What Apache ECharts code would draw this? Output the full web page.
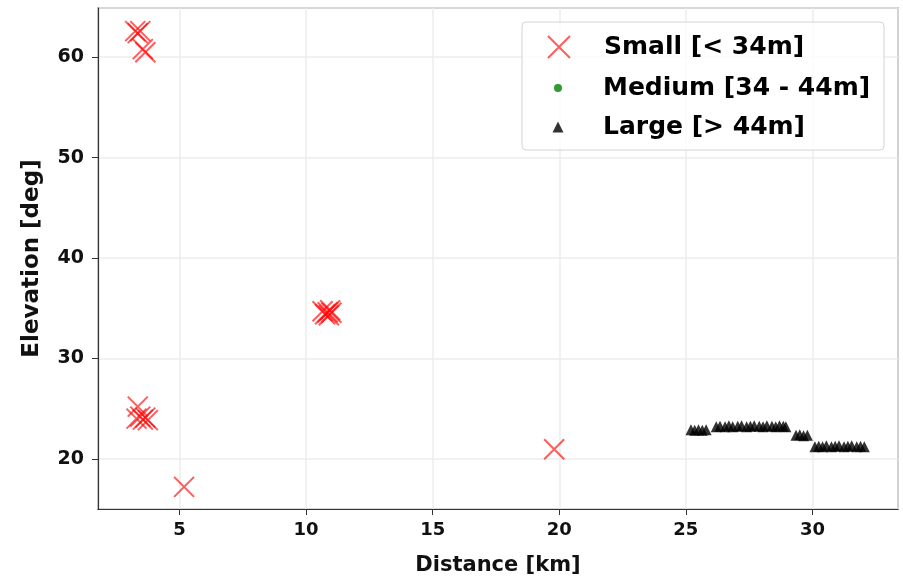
<!DOCTYPE html>
<html>
<head>
<meta charset="utf-8">
<script src="https://cdn.jsdelivr.net/npm/echarts@6/dist/echarts.min.js"></script>
<style>
  html, body { margin: 0; padding: 0; background: #fff; }
  #main { width: 903px; height: 579px; }
</style>
</head>
<body>
<div id="main"></div>
<script>
// Small [< 34m] : [distance km, elevation deg]
const smallPts = [
  [3.25, 62.6], [3.35, 62.4], [3.45, 62.6],
  [3.55, 60.8], [3.65, 60.5],
  [3.35, 25.2], [3.3, 24.0], [3.45, 24.2], [3.55, 23.9], [3.65, 24.1], [3.75, 23.85],
  [5.18, 17.2],
  [10.65, 34.7], [10.75, 34.4], [10.85, 34.6], [10.95, 34.8], [10.9, 34.3], [11.0, 34.55],
  [19.8, 20.95]
];
// Medium [34 - 44m] : none in this plot
const mediumPts = [];
// Large [> 44m]
const largePts = [
  [25.2, 22.9], [25.35, 22.85], [25.5, 22.9], [25.65, 22.85], [25.8, 22.9],
  [26.2, 23.2], [26.35, 23.25], [26.55, 23.2], [26.7, 23.3], [26.85, 23.2],
  [27.05, 23.25], [27.2, 23.3], [27.4, 23.2], [27.55, 23.25], [27.7, 23.3],
  [27.9, 23.25], [28.05, 23.2], [28.2, 23.3], [28.4, 23.25], [28.55, 23.2],
  [28.7, 23.3], [28.85, 23.25], [28.95, 23.2],
  [29.35, 22.35], [29.5, 22.4], [29.65, 22.3], [29.8, 22.35],
  [30.1, 21.2], [30.25, 21.25], [30.4, 21.2], [30.55, 21.3], [30.75, 21.2],
  [30.9, 21.25], [31.05, 21.3], [31.25, 21.2], [31.4, 21.25], [31.55, 21.3],
  [31.75, 21.2], [31.9, 21.25], [32.05, 21.2]
];
const names = ['Small [< 34m]', 'Medium [34 - 44m]', 'Large [> 44m]'];
const xRange = [1.78, 33.38];
const yRange = [15.0, 64.9];

const FONT = 'DejaVu Sans';
const X_ICON = 'path://M0,0 L10,10 M10,0 L0,10';

const chart = echarts.init(document.getElementById('main'));

function legendItem(name, cy, size) {
  // one legend per entry so each icon keeps its own size
  return {
    data: [name],
    left: 558 - size / 2,
    top: cy - 15,
    itemWidth: size,
    itemHeight: size,
    padding: 0,
    selectedMode: false,
    textStyle: {
      fontFamily: FONT, fontWeight: 'bold', fontSize: 25, lineHeight: 30, color: '#000',
      padding: [0, 0, 0, 603 - (558 + size / 2) - 5]
    }
  };
}

chart.setOption({
  animation: false,
  textStyle: { fontFamily: FONT },
  grid: {
    left: 98, right: 5, top: 8, bottom: 70,
    outerBoundsMode: 'none',
    show: true, borderColor: '#333', borderWidth: 1.2
  },
  graphic: [{
    type: 'rect', z: 3,
    shape: { x: 522, y: 22, width: 362, height: 128, r: 4 },
    style: { fill: 'rgba(255,255,255,0.85)', stroke: '#d4d4d4', lineWidth: 1 }
  }],
  legend: [
    legendItem(names[0], 47, 22),
    legendItem(names[1], 88, 8),
    legendItem(names[2], 127, 11)
  ],
  xAxis: {
    type: 'value',
    min: xRange[0], max: xRange[1],
    splitNumber: 6,
    name: 'Distance [km]',
    nameLocation: 'middle',
    nameGap: 46,
    nameTextStyle: { fontFamily: FONT, fontWeight: 'bold', fontSize: 21, color: '#111' },
    axisLine: { lineStyle: { color: '#333', width: 1.2 } },
    axisTick: { length: 6, lineStyle: { color: '#333' } },
    axisLabel: {
      showMinLabel: false, showMaxLabel: false,
      fontFamily: FONT, fontWeight: 'bold', fontSize: 18, color: '#111', margin: 12
    },
    splitLine: { show: true, lineStyle: { color: '#ececec', width: 1.5 } }
  },
  yAxis: {
    type: 'value',
    min: yRange[0], max: yRange[1],
    name: 'Elevation [deg]',
    nameLocation: 'middle',
    nameGap: 54,
    nameTextStyle: { fontFamily: FONT, fontWeight: 'bold', fontSize: 23, color: '#111' },
    axisLine: { lineStyle: { color: '#333', width: 1.2 } },
    axisTick: { length: 6, lineStyle: { color: '#333' } },
    axisLabel: {
      showMinLabel: false, showMaxLabel: false,
      fontFamily: FONT, fontWeight: 'bold', fontSize: 19, color: '#111', margin: 14
    },
    splitLine: { show: true, lineStyle: { color: '#ececec', width: 1.5 } }
  },
  series: [
    {
      name: names[0],
      type: 'scatter',
      data: smallPts,
      symbol: X_ICON,
      symbolSize: 20,
      itemStyle: { color: 'transparent', borderColor: 'rgba(255,0,0,0.8)', borderWidth: 2 },
      z: 5
    },
    {
      name: names[1],
      type: 'scatter',
      data: mediumPts,
      symbol: 'circle',
      symbolSize: 8,
      itemStyle: { color: 'green' }
    },
    {
      name: names[2],
      type: 'scatter',
      data: largePts,
      symbol: 'triangle',
      symbolSize: 11,
      itemStyle: { color: '#000' }
    }
  ]
});
</script>
</body>
</html>
